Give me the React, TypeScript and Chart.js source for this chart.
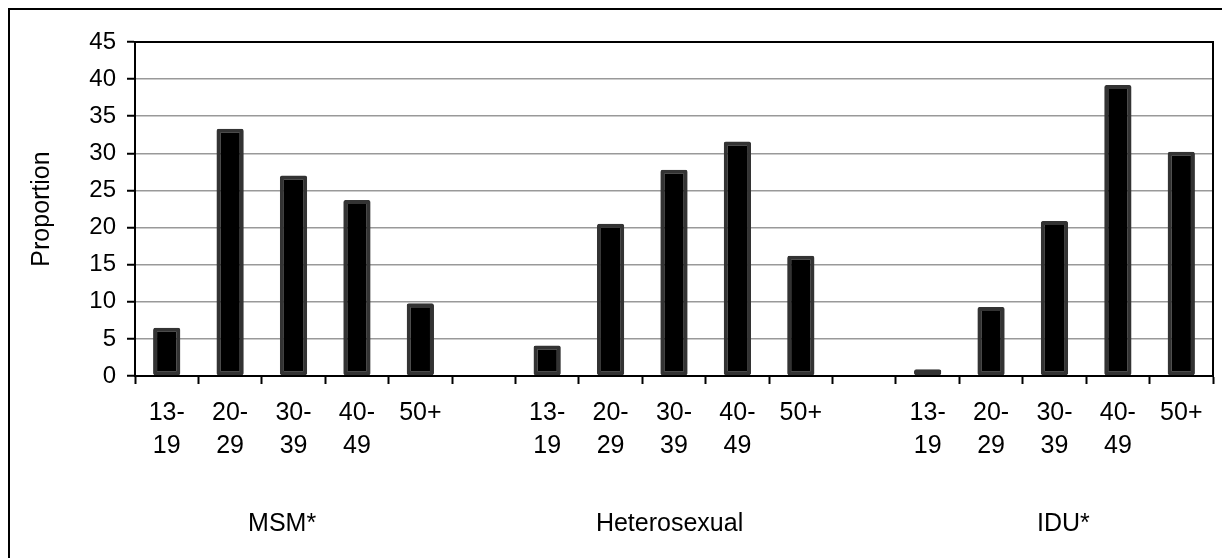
import React, { useEffect, useRef } from 'react';
import { Chart, registerables } from 'chart.js';

Chart.register(...registerables);

// ---- data ----
const ageLabels: string[][] = [['13-', '19'], ['20-', '29'], ['30-', '39'], ['40-', '49'], ['50+']];
const groupNames = ['MSM*', 'Heterosexual', 'IDU*'];
const msmValues = [6.5, 33.3, 27.0, 23.7, 9.8];
const heteroValues = [4.1, 20.5, 27.8, 31.6, 16.2];
const iduValues = [0.9, 9.3, 20.9, 39.2, 30.2];
const yTicks = [0, 5, 10, 15, 20, 25, 30, 35, 40, 45];
const yAxisTitle = 'Proportion';

// ---- layout constants ----
const FONT = '"Liberation Sans", Arial, sans-serif';
const groupLabelIndex = [1.82, 7.93, 14.14];
const groupLabelY = 514;

const categories: (string | string[])[] = [...ageLabels, '', ...ageLabels, '', ...ageLabels];
const values: (number | null)[] = [...msmValues, null, ...heteroValues, null, ...iduValues];

const framePlugin = {
  id: 'frameAndGroups',
  afterDraw(chart: any) {
    const { ctx, chartArea: a, scales } = chart;
    ctx.save();
    ctx.strokeStyle = '#000';
    ctx.lineWidth = 2;
    ctx.strokeRect(a.left, a.top, a.right - a.left, a.bottom - a.top);
    ctx.fillStyle = '#000';
    ctx.font = `25px ${FONT}`;
    ctx.textAlign = 'center';
    ctx.textBaseline = 'middle';
    groupNames.forEach((n, i) => {
      ctx.fillText(n, scales.x.getPixelForValue(groupLabelIndex[i]), groupLabelY);
    });
    ctx.restore();
  },
};

export default function App() {
  const ref = useRef<HTMLCanvasElement | null>(null);
  useEffect(() => {
    if (!ref.current) return;
    const chart = new Chart(ref.current, {
      type: 'bar',
      data: {
        labels: categories as any,
        datasets: [
          {
            data: values,
            backgroundColor: '#000',
            borderColor: '#333',
            borderWidth: 4,
            borderSkipped: false,
            borderRadius: 2,
            barPercentage: 0.43,
            categoryPercentage: 1,
          },
        ],
      },
      options: {
        responsive: false,
        animation: false,
        events: [],
        layout: { padding: { left: 0, top: 32, right: 9, bottom: 0 } },
        plugins: { legend: { display: false }, tooltip: { enabled: false } },
        scales: {
          x: {
            grid: {
              display: true,
              drawOnChartArea: false,
              drawTicks: true,
              tickLength: 8,
              tickColor: '#000',
              tickWidth: 2,
              offset: true,
            },
            border: { display: true, color: '#000', width: 2 },
            ticks: {
              color: '#000',
              font: { size: 25, family: FONT, lineHeight: 1.33 },
              padding: 12,
              maxRotation: 0,
              minRotation: 0,
              autoSkip: false,
            },
            afterFit: (s: any) => {
              s.height = 182;
            },
          },
          y: {
            min: 0,
            max: 45,
            afterBuildTicks: (s: any) => {
              s.ticks = yTicks.map((v) => ({ value: v }));
            },
            grid: {
              color: '#999',
              lineWidth: 1.5,
              drawTicks: true,
              tickLength: 8,
              tickColor: '#000',
              tickWidth: 2,
            },
            border: { display: true, color: '#000', width: 2 },
            ticks: {
              color: '#000',
              font: { size: 24, family: FONT },
              padding: 11,
            },
            title: {
              display: true,
              text: yAxisTitle,
              color: '#000',
              font: { size: 25, family: FONT },
              padding: { top: 17, bottom: 0 },
            },
            afterFit: (s: any) => {
              s.width = 125;
            },
          },
        },
      },
      plugins: [framePlugin],
    });
    return () => chart.destroy();
  }, []);

  return (
    <div
      style={{
        position: 'fixed',
        left: 8,
        top: 8,
        width: 1400,
        height: 700,
        border: '2px solid #000',
        background: '#fff',
      }}
    >
      <canvas ref={ref} width={1212} height={548} style={{ display: 'block' }} />
    </div>
  );
}
